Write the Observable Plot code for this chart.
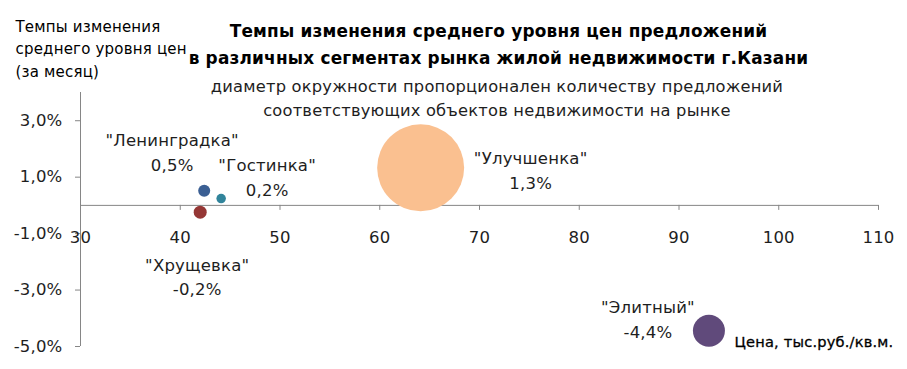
<!DOCTYPE html>
<html><head><meta charset="utf-8">
<script src="https://cdn.jsdelivr.net/npm/d3@7"></script>
<script src="https://cdn.jsdelivr.net/npm/@observablehq/plot@0.6"></script>
<style>
body{margin:0;background:#fff;}
#chart svg text{letter-spacing:0.2px}
</style>
</head><body><div id="chart"></div>
<script>
// ---- data ----
const segments = ["\"Ленинградка\"", "\"Гостинка\"", "\"Хрущевка\"", "\"Улучшенка\"", "\"Элитный\""];
const prices = [42.4, 44.1, 42.0, 64.1, 93.0];            // тыс.руб./кв.м.
const changes = [0.52, 0.24, -0.24, 1.33, -4.44];          // % за месяц
const offers = [120, 95, 130, 870, 320];                   // относительное количество предложений
const xTicks = [30, 40, 50, 60, 70, 80, 90, 100, 110];
const yTicks = [-5, -3, -1, 1, 3];
const titleLines = ["Темпы изменения среднего уровня цен предложений", "в различных сегментах рынка жилой недвижимости г.Казани"];
const subtitleLines = ["диаметр окружности пропорционален количеству предложений", "соответствующих объектов недвижимости на рынке"];
const yTitleLines = ["Темпы изменения", "среднего уровня цен", "(за месяц)"];
const xTitle = "Цена, тыс.руб./кв.м.";

// ---- styles ----
const colors = ["#3B5F93", "#31849B", "#953735", "#FAC090", "#604A7B"];
const labelOffsets = [[-32, -40], [46, -23], [-3, 63], [110, 1], [-61, -13]];
const axisColor = "#868686";
const textColor = "#1e1e1e";
const pct = v => v.toFixed(1).replace(".", ",") + "%";

const rows = segments.map((s, i) => ({name: s, price: prices[i], change: changes[i], offers: offers[i], color: colors[i]}));

const labelMarks = rows.map((d, i) => Plot.text([d], {
  x: "price", y: "change",
  text: r => r.name + "\n" + pct(r.change),
  dx: labelOffsets[i][0], dy: labelOffsets[i][1],
  fontSize: 16.5, lineHeight: 1.5, fill: textColor, textAnchor: "middle", lineAnchor: "middle"
}));

const chart = Plot.plot({
  width: 907, height: 369,
  marginLeft: 80, marginRight: 29, marginTop: 92, marginBottom: 23,
  style: {fontFamily: "DejaVu Sans", fontSize: "16px", background: "white", overflow: "visible"},
  x: {domain: [30, 110], axis: null},
  y: {domain: [-5, 4], axis: null},
  r: {type: "linear", domain: [0, 870], range: [0, 43.5]},
  color: {type: "identity"},
  marks: [
    Plot.ruleX([30], {stroke: axisColor}),
    Plot.ruleY([0], {stroke: axisColor}),
    Plot.ruleX(xTicks, {x: d => d, y1: 0, y2: 0, insetBottom: -5, stroke: axisColor}),
    Plot.ruleY(yTicks, {y: d => d, x1: 30, x2: 30, insetLeft: -5, stroke: axisColor}),
    Plot.text(yTicks, {x: 30, y: d => d, text: pct, dx: -18, textAnchor: "end", fontSize: 16.5, fill: textColor}),
    Plot.text(xTicks, {x: d => d, y: 0, text: d => String(d), dy: 32, fontSize: 16.5, fill: textColor}),
    Plot.dot(rows, {x: "price", y: "change", r: "offers", fill: "color", stroke: "none"}),
    ...labelMarks,
    Plot.text([titleLines.join("\n")], {frameAnchor: "top-left", dx: 418, dy: -50.5, text: d => d, fontSize: 16.9, fontWeight: "bold", lineHeight: 1.6, textAnchor: "middle", lineAnchor: "middle", fill: "#000"}),
    Plot.text([subtitleLines.join("\n")], {frameAnchor: "top-left", dx: 416.5, dy: 4, text: d => d, fontSize: 16.3, lineHeight: 1.47, textAnchor: "middle", lineAnchor: "middle", fill: textColor}),
    Plot.text([yTitleLines.join("\n")], {frameAnchor: "top-left", dx: -65, dy: -45.5, text: d => d, fontSize: 15, lineHeight: 1.5, textAnchor: "start", lineAnchor: "middle", fill: "#000"}),
    Plot.text([xTitle], {frameAnchor: "top-left", dx: 654, dy: 250, text: d => d, fontSize: 14.6, textAnchor: "start", lineAnchor: "middle", fill: "#000", stroke: "#000", strokeWidth: 0.3})
  ]
});
document.getElementById("chart").appendChild(chart);
</script>
</body></html>
